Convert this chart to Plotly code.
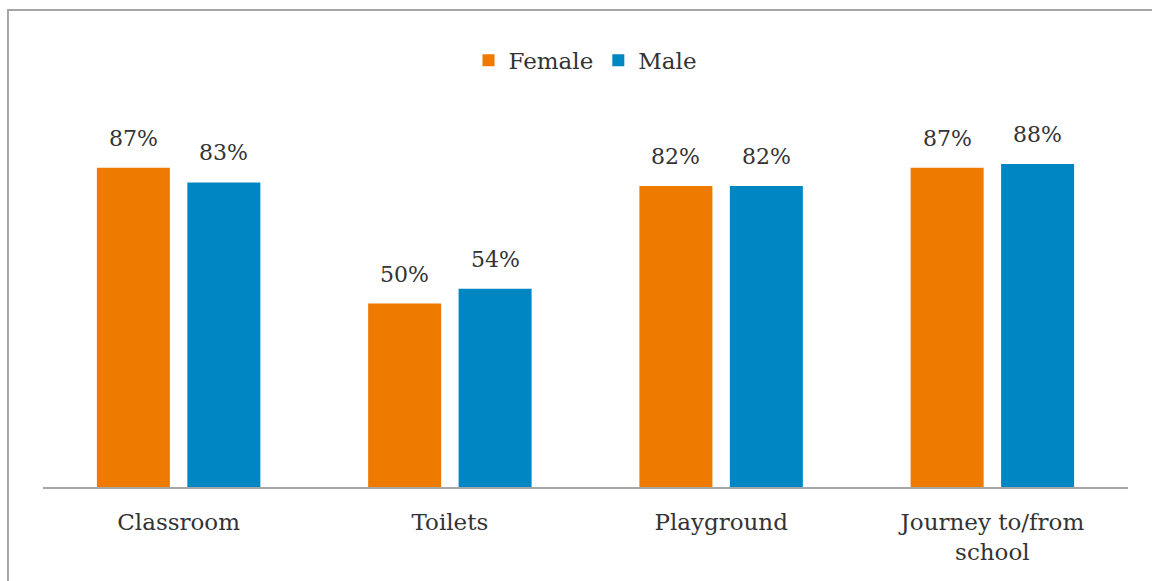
import plotly.graph_objects as go

categories = ["Classroom", "Toilets", "Playground", "Journey to/from<br>school"]
female = [0.87, 0.50, 0.82, 0.87]
male = [0.83, 0.54, 0.82, 0.88]

ORANGE = "#EE7A00"
BLUE = "#0086C3"
TEXT = "#333333"
FONT = "DejaVu Serif, Liberation Serif, serif"

fig = go.Figure()
fig.add_trace(go.Bar(name="Female", x=categories, y=female, marker_color=ORANGE,
                     marker_line_width=0))
fig.add_trace(go.Bar(name="Male", x=categories, y=male, marker_color=BLUE,
                     marker_line_width=0))

# value labels above each bar
BAR_OFFSET = 45.3  # px from category centre to bar centre
for vals, shift in ((female, -BAR_OFFSET), (male, BAR_OFFSET)):
    for cat, v in zip(categories, vals):
        fig.add_annotation(x=cat, y=v, text=f"{v:.0%}", showarrow=False,
                           xshift=shift, yanchor="bottom", yshift=15,
                           font=dict(family=FONT, size=22, color=TEXT))

# outer frame
fig.add_shape(type="rect", xref="paper", yref="paper",
              x0=-0.0323, x1=1.1, y0=-0.4, y1=1.2997,
              line=dict(color="#A6A6A6", width=2), fillcolor="rgba(0,0,0,0)")

fig.update_layout(
    width=1152, height=581,
    margin=dict(l=43, r=24, t=120, b=94),
    paper_bgcolor="white", plot_bgcolor="white",
    barmode="group", bargap=0.333, bargroupgap=0.193,
    font=dict(family=FONT, size=23, color=TEXT),
    showlegend=True,
    legend=dict(orientation="h", x=0.5, xanchor="center", y=1.163, yanchor="middle",
                font=dict(family=FONT, size=23, color=TEXT), itemwidth=30,
                traceorder="normal"),
    xaxis=dict(showline=True, linecolor="#A6A6A6", linewidth=2, ticks="",
               tickfont=dict(family=FONT, size=23, color=TEXT), ticklabelstandoff=13),
    yaxis=dict(range=[0, 1], visible=False, showgrid=False),
)

fig.write_html("out.html")
